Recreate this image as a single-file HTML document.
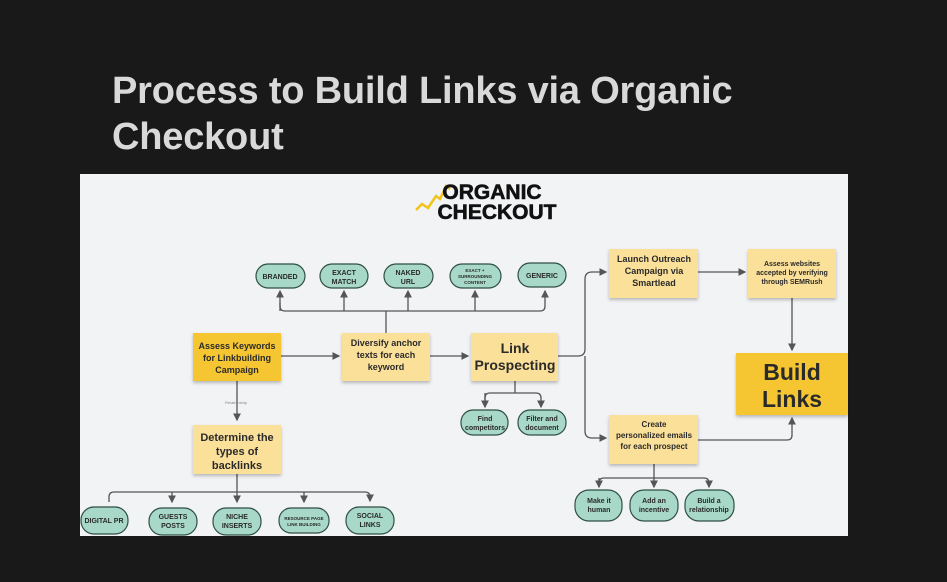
<!DOCTYPE html>
<html><head><style>
html,body{margin:0;padding:0;background:#191919;width:947px;height:582px;overflow:hidden}
h1{position:absolute;left:112px;top:68px;margin:0;font:bold 38px/46px "Liberation Sans",sans-serif;color:#d9d9d9;letter-spacing:-0.2px}
svg{position:absolute;left:0;top:0}
text{font-family:"Liberation Sans",sans-serif;font-weight:bold;fill:#2a2a2a;text-anchor:middle}
</style></head><body>
<h1>Process to Build Links via Organic<br>Checkout</h1>
<svg width="947" height="582" viewBox="0 0 947 582">
<defs>
<marker id="a" markerWidth="6" markerHeight="6" refX="5" refY="3" orient="auto"><path d="M0,0 L6,3 L0,6z" fill="#555"/></marker>
<filter id="s" x="-10%" y="-10%" width="130%" height="130%"><feDropShadow dx="0" dy="2" stdDeviation="1.5" flood-opacity="0.25"/></filter>
</defs>
<rect x="80" y="174" width="768" height="362" fill="#f2f3f5"/>
<!-- logo -->
<polyline points="416,210 422,204 428,208 436,196 440,199 446,186 450,189" fill="none" stroke="#f0c419" stroke-width="2.5"/>
<text x="492" y="199" style="font-size:21px;font-weight:900;fill:#111;stroke:#111;stroke-width:0.6">ORGANIC</text>
<text x="497" y="219" style="font-size:21px;font-weight:900;fill:#111;stroke:#111;stroke-width:0.6">CHECKOUT</text>
<g fill="none" stroke="#555" stroke-width="1.3">
<path d="M386,333 V311 M280,303 V306 Q280,311 285,311 H540 Q545,311 545,306 V291" marker-end="url(#a)"/>
<path d="M280,311 V291" marker-end="url(#a)"/>
<path d="M344,311 V291" marker-end="url(#a)"/>
<path d="M408,311 V291" marker-end="url(#a)"/>
<path d="M475,311 V291" marker-end="url(#a)"/>
<path d="M281,356 H339" marker-end="url(#a)"/>
<path d="M430,356 H468" marker-end="url(#a)"/>
<path d="M237,381 V420" marker-end="url(#a)"/>
<path d="M237,474 V492 M109,502 V497 Q109,492 114,492 H365 Q370,492 370,497 V501" marker-end="url(#a)"/>
<path d="M172,492 V502" marker-end="url(#a)"/>
<path d="M237,492 V502" marker-end="url(#a)"/>
<path d="M304,492 V502" marker-end="url(#a)"/>
<path d="M515,381 V393 M485,407 V398 Q485,393 490,393 H536 Q541,393 541,398 V407" marker-end="url(#a)"/>
<path d="M485,393 V407" marker-end="url(#a)"/>
<path d="M558,356 H578 Q585,356 585,349 V279 Q585,272 592,272 H606" marker-end="url(#a)"/>
<path d="M585,356 V431 Q585,438 592,438 H606" marker-end="url(#a)"/>
<path d="M698,272 H745" marker-end="url(#a)"/>
<path d="M792,298 V350" marker-end="url(#a)"/>
<path d="M698,440 H787 Q792,440 792,435 V418" marker-end="url(#a)"/>
<path d="M654,464 V478 M599,487 V483 Q599,478 604,478 H704 Q709,478 709,483 V487" marker-end="url(#a)"/>
<path d="M599,478 V487" marker-end="url(#a)"/>
<path d="M654,478 V487" marker-end="url(#a)"/>
</g>
<g fill="#a8d8c8" stroke="#2f4f46" stroke-width="1.2">
<rect x="256" y="264" width="49" height="24" rx="12"/>
<rect x="320" y="264" width="48" height="24" rx="12"/>
<rect x="384" y="264" width="49" height="24" rx="12"/>
<rect x="450" y="264" width="51" height="24" rx="12"/>
<rect x="518" y="263" width="48" height="24" rx="12"/>
<rect x="81" y="507" width="47" height="27" rx="13"/>
<rect x="149" y="508" width="48" height="27" rx="13"/>
<rect x="213" y="508" width="48" height="27" rx="13"/>
<rect x="279" y="508" width="50" height="25" rx="12"/>
<rect x="346" y="507" width="48" height="27" rx="13"/>
<rect x="461" y="410" width="47" height="25" rx="12"/>
<rect x="518" y="410" width="48" height="25" rx="12"/>
<rect x="575" y="490" width="47" height="31" rx="14"/>
<rect x="630" y="490" width="48" height="31" rx="14"/>
<rect x="685" y="490" width="49" height="31" rx="14"/>
</g>
<g style="font-size:7px">
<text x="280" y="279">BRANDED</text>
<text x="344" y="275">EXACT</text><text x="344" y="284">MATCH</text>
<text x="408" y="275">NAKED</text><text x="408" y="284">URL</text>
<text x="475" y="272" style="font-size:4.5px">EXACT +</text><text x="475" y="278" style="font-size:4.5px">SURROUNDING</text><text x="475" y="284" style="font-size:4.5px">CONTENT</text>
<text x="542" y="278">GENERIC</text>
<text x="104" y="523">DIGITAL PR</text>
<text x="173" y="519">GUESTS</text><text x="173" y="528">POSTS</text>
<text x="237" y="519">NICHE</text><text x="237" y="528">INSERTS</text>
<text x="304" y="520" style="font-size:4.5px">RESOURCE PAGE</text><text x="304" y="526" style="font-size:4.5px">LINK BUILDING</text>
<text x="370" y="518">SOCIAL</text><text x="370" y="527">LINKS</text>
<text x="485" y="421">Find</text><text x="485" y="430">competitors</text>
<text x="542" y="421">Filter and</text><text x="542" y="430">document</text>
<text x="599" y="503">Make it</text><text x="599" y="512">human</text>
<text x="654" y="503">Add an</text><text x="654" y="512">incentive</text>
<text x="709" y="503">Build a</text><text x="709" y="512">relationship</text>
</g>
<g filter="url(#s)">
<rect x="193" y="333" width="88" height="48" fill="#f5c631"/>
<rect x="342" y="333" width="88" height="48" fill="#fbe09a"/>
<rect x="471" y="333" width="87" height="48" fill="#fbe09a"/>
<rect x="193" y="425" width="88" height="49" fill="#fbe09a"/>
<rect x="609" y="249" width="89" height="49" fill="#fbe09a"/>
<rect x="748" y="249" width="88" height="49" fill="#fbe09a"/>
<rect x="609" y="415" width="89" height="49" fill="#fbe09a"/>
<rect x="736" y="353" width="112" height="62" fill="#f5c631"/>
</g>
<g style="font-size:9px">
<text x="237" y="349">Assess Keywords</text><text x="237" y="361">for Linkbuilding</text><text x="237" y="373">Campaign</text>
<text x="386" y="346">Diversify anchor</text><text x="386" y="358">texts for each</text><text x="386" y="370">keyword</text>
<text x="654" y="262">Launch Outreach</text><text x="654" y="274">Campaign via</text><text x="654" y="286">Smartlead</text>
<text x="654" y="427" style="font-size:8px">Create</text><text x="654" y="438" style="font-size:8px">personalized emails</text><text x="654" y="449" style="font-size:8px">for each prospect</text>
<text x="792" y="266" style="font-size:7px">Assess websites</text><text x="792" y="275" style="font-size:7px">accepted by verifying</text><text x="792" y="284" style="font-size:7px">through SEMRush</text>
</g>
<text x="515" y="353" style="font-size:14px">Link</text>
<text x="515" y="370" style="font-size:14px">Prospecting</text>
<text x="237" y="441" style="font-size:11px">Determine the</text>
<text x="237" y="455" style="font-size:11px">types of</text>
<text x="237" y="469" style="font-size:11px">backlinks</text>
<text x="792" y="380" style="font-size:23px">Build</text>
<text x="792" y="407" style="font-size:23px">Links</text>
<text x="236" y="404" style="font-size:4px;fill:#888;font-weight:normal">Relationship</text>
</svg>
</body></html>
